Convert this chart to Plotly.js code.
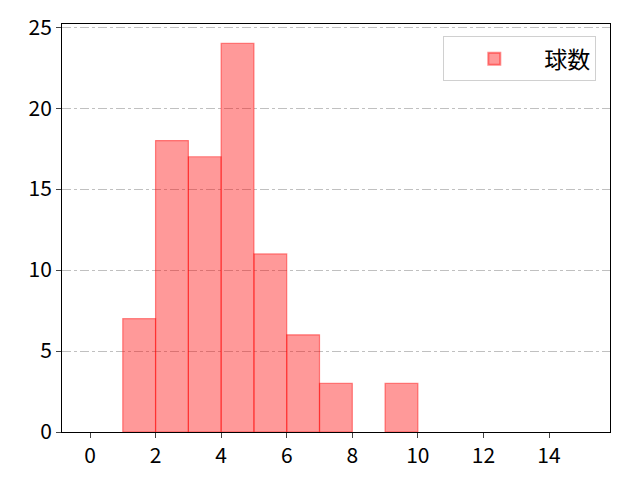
<!DOCTYPE html>
<html><head><meta charset="utf-8">
<script src="https://cdn.plot.ly/plotly-3.0.1.min.js"></script>
<style>body{margin:0}#c{width:640px;height:480px}</style>
</head><body><div id="c"></div>
<script>
const binLeft = [1, 2, 3, 4, 5, 6, 7, 8, 9];
const counts = [7, 18, 17, 24, 11, 6, 3, 0, 3];
const seriesName = '球数';
const xTicks = [0, 2, 4, 6, 8, 10, 12, 14];
const yTicks = [0, 5, 10, 15, 20, 25];

const font = 'Noto Sans CJK JP, sans-serif';
Plotly.newPlot('c', [{
  type: 'bar', x: binLeft, y: counts, width: 1, offset: 0, name: seriesName,
  marker: {color: 'rgba(255,0,0,0.4)', line: {color: 'rgba(255,0,0,0.45)', width: counts.map(c => c > 0 ? 1.2 : 0)}},
  showlegend: true
}], {
  width: 640, height: 480,
  margin: {l: 62, r: 30, t: 24, b: 48},
  paper_bgcolor: 'white', plot_bgcolor: 'white',
  font: {family: font, size: 21, color: 'black'},
  bargap: 0,
  xaxis: {range: [-0.854, 15.86], tickvals: xTicks, ticks: 'outside', ticklen: 5, showgrid: false,
    zeroline: false, showline: true, linecolor: 'black', linewidth: 1, mirror: true, tickfont: {size: 21}},
  yaxis: {range: [0, 25.2], tickvals: yTicks, ticks: 'outside', ticklen: 5, showgrid: true,
    gridcolor: '#b0b0b0', griddash: 'dashdot', gridwidth: 0.8,
    zeroline: false, showline: true, linecolor: 'black', linewidth: 1, mirror: true, tickfont: {size: 21}},
  legend: {x: 0.975, y: 0.97, xanchor: 'right', yanchor: 'top', bordercolor: '#d0d0d0', borderwidth: 1,
    bgcolor: 'white', font: {size: 23}, itemwidth: 90, itemsizing: 'constant'}
}, {staticPlot: true});
</script></body></html>
